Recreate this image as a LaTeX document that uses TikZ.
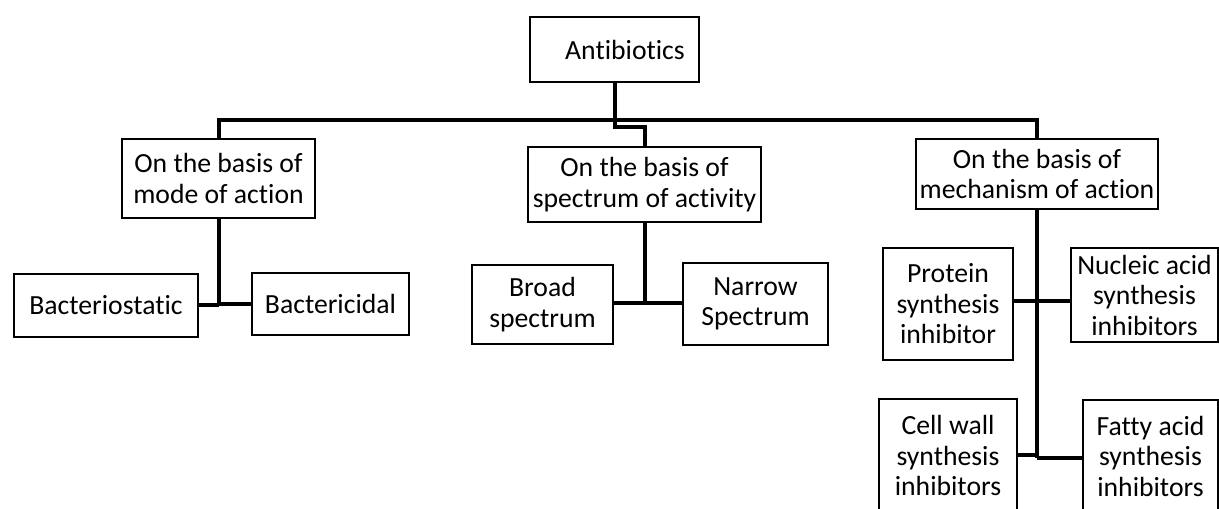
\documentclass[tikz,border=0pt]{standalone}
\usepackage{fontspec}
\setmainfont{Carlito}[RawFeature={-liga}]
\begin{document}
\begin{tikzpicture}[x=1pt,y=-1pt,
  box/.style={draw=black, line width=2.5pt, fill=white, align=center, inner sep=0pt,
    font=\fontsize{27.7}{30.5}\selectfont},
  conn/.style={draw=black, line width=4pt}]
\useasboundingbox (0,0) rectangle (1219,509);
\clip (0,0) rectangle (1219,509);
% nodes
\node[box, minimum width=169pt, minimum height=65pt] (anti) at (614.5,49.5) {\hspace*{21pt}Antibiotics};
\node[box, minimum width=193pt, minimum height=79pt] (mode) at (218.5,178.5) {On the basis of\\mode of action};
\node[box, minimum width=233pt, minimum height=75pt] (spec) at (644.5,184.5) {On the basis of\\spectrum of activity};
\node[box, minimum width=242pt, minimum height=70pt] (mech) at (1037,174) {On the basis of\\mechanism of action};
\node[box, minimum width=184pt, minimum height=63pt] (bstat) at (106,305.5) {Bacteriostatic};
\node[box, minimum width=157pt, minimum height=62pt] (bcid) at (330.5,304) {Bactericidal};
\node[box, minimum width=141pt, minimum height=79pt] (broad) at (542.5,304.5) {Broad\\spectrum};
\node[box, minimum width=145pt, minimum height=82pt] (narrow) at (755.5,304) {Narrow\\Spectrum};
\node[box, minimum width=130pt, minimum height=112pt] (prot) at (948,304) {Protein\\synthesis\\inhibitor};
\node[box, minimum width=147pt, minimum height=94pt] (nucl) at (1144.5,295) {Nucleic acid\\synthesis\\inhibitors};
\node[box, minimum width=138pt, minimum height=113pt] (cell) at (948,455.5) {Cell wall\\synthesis\\inhibitors};
\node[box, minimum width=135pt, minimum height=112pt] (fatty) at (1150.5,456) {Fatty acid\\synthesis\\inhibitors};
% helper coordinates
\coordinate (bus) at (0,120);
\coordinate (jog) at (0,127);
\coordinate (modej) at (219,305);
\coordinate (specj) at (643,303);
\coordinate (mechj1) at (1037,301);
\coordinate (mechj2) at (1037,458);
% connectors
\draw[conn] (mode.north) -- (mode.north |- bus) -- (mech.north |- bus) -- (mech.north);
\draw[conn] (anti.south) -- (anti.south |- jog) -- (spec.north |- jog) -- (spec.north);
\draw[conn] (mode.south) -- (mode.south |- modej);
\draw[conn] (bstat.east |- modej) -- (modej);
\draw[conn] (modej |- bcid.west) -- (bcid.west);
\draw[conn] (spec.south) -- (spec.south |- specj);
\draw[conn] (broad.east |- specj) -- (specj) -- (narrow.west |- specj);
\draw[conn] (mech.south) -- (mechj2);
\draw[conn] (prot.east |- mechj1) -- (nucl.west |- mechj1);
\draw[conn] (cell.east |- 0,455) -- (1037,455);
\draw[conn] (mechj2) -- (fatty.west |- mechj2);
\end{tikzpicture}
\end{document}
